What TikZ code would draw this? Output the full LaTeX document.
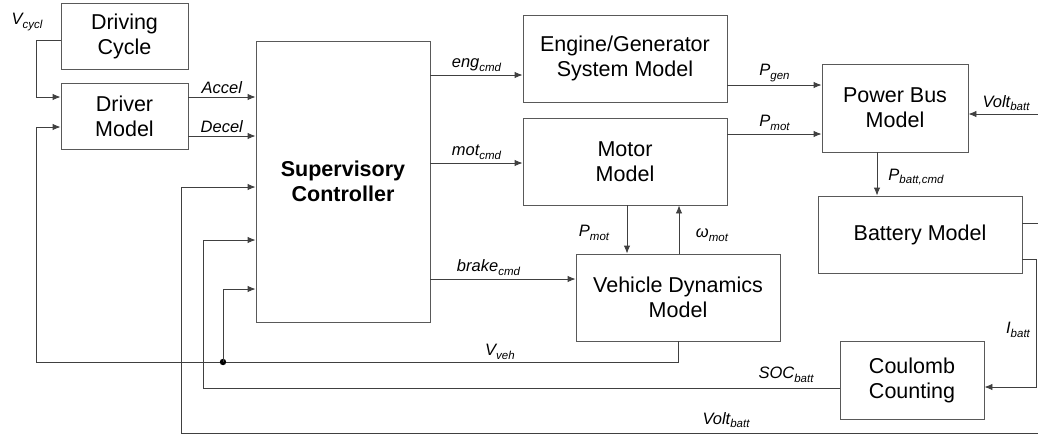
\documentclass[tikz,border=0pt]{standalone}
\usepackage{fontspec}
\setmainfont{Liberation Sans}
\usetikzlibrary{arrows.meta}
\newcommand{\vsub}[2]{\textit{#1\raisebox{-.4ex}{\fontsize{11.5}{12}\selectfont #2}}}

\begin{document}
\begin{tikzpicture}[x=1pt,y=-1pt]
	\tikzset{block/.style = {draw=black!65, line width=0.9pt, align=center, inner sep=0pt, font=\fontsize{21.5}{25}\selectfont}}
	\tikzset{sig/.style = {->, >={Latex[length=8pt,width=6.5pt]}, line width=0.9pt, draw=black!75}}
	\tikzset{wire/.style = {line width=0.9pt, draw=black!75}}
	\tikzset{lbl/.style = {font=\fontsize{16.5}{18}\selectfont, inner sep=0pt}}
	\useasboundingbox (0,0) rectangle (1038,437);
	% Blocks
	\node[block, minimum width=127pt, minimum height=66pt] (cycle) at (124.5,36) {Driving\\Cycle};
	\node[block, minimum width=127pt, minimum height=66pt] (driver) at (124.5,116) {Driver\\Model};
	\node[block, minimum width=174pt, minimum height=281pt] (ctrl) at (343,181.5) {\textbf{Supervisory}\\\textbf{Controller}};
	\node[block, minimum width=204pt, minimum height=87pt] (engine) at (625,58.5) {Engine/Generator\\System Model};
	\node[block, minimum width=204pt, minimum height=87pt] (motor) at (625,161.5) {Motor\\Model};
	\node[block, minimum width=204pt, minimum height=87pt] (vehicle) at (678,297.5) {Vehicle Dynamics\\Model};
	\node[block, minimum width=146pt, minimum height=88pt] (bus) at (895,108) {Power Bus\\Model};
	\node[block, minimum width=204pt, minimum height=77pt] (battery) at (920,234.5) {Battery Model};
	\node[block, minimum width=144pt, minimum height=78pt] (coulomb) at (912,380) {Coulomb\\Counting};
	% Free ends at the right edge
	\coordinate (vr) at (1038,114);
	\coordinate (br) at (1038,223);
	\coordinate (vb) at (1038,433);
	\coordinate (vj) at (223,362);
	% Driver inputs and outputs
	\draw[sig] (cycle.west |- 0,40) -- (36,40) |- (driver.west |- 0,97);
	\node[lbl] (vcycl) at (27,22) {\vsub{V}{cycl}};
	\draw[sig] (driver.east |- 0,97) -- (ctrl.west |- 0,97) node[lbl, midway, above=3pt] {\textit{Accel}};
	\draw[sig] (driver.east |- 0,136) -- (ctrl.west |- 0,136) node[lbl, midway, above=3pt] {\textit{Decel}};
	% Controller commands
	\draw[sig] (ctrl.east |- 0,75) -- (engine.west |- 0,75) node[lbl, midway, above=3pt] {\vsub{eng}{cmd}};
	\draw[sig] (ctrl.east |- 0,163) -- (motor.west |- 0,163) node[lbl, midway, above=3pt] {\vsub{mot}{cmd}};
	\draw[sig] (ctrl.east |- 0,279) -- (vehicle.west |- 0,279) node[lbl, pos=0.4, above=3pt] {\vsub{brake}{cmd}};
	% Power flows
	\draw[sig] (engine.east |- 0,85) -- (bus.west |- 0,85) node[lbl, midway, above=3pt] {\vsub{P}{gen}};
	\draw[sig] (motor.east |- 0,134) -- (bus.west |- 0,134) node[lbl, midway, above=3pt] {\vsub{P}{mot}};
	\draw[sig] (motor.south -| 627,0) -- (vehicle.north -| 627,0);
	\node[lbl] (pmot) at (594,233) {\vsub{P}{mot}};
	\draw[sig] (vehicle.north -| 679,0) -- (motor.south -| 679,0);
	\node[lbl] (wmot) at (712,235) {\vsub{ω}{mot}};
	\draw[sig] (bus.south -| 877,0) -- (battery.north -| 877,0);
	\node[lbl] (pbatt) at (916,177) {\vsub{P}{batt,cmd}};
	\draw[sig] (vr) -- (bus.east |- vr);
	\node[lbl] (voltr) at (1006,103) {\vsub{Volt}{batt}};
	% Battery outputs
	\draw[wire] (battery.east |- br) -- (br);
	\draw[sig] (battery.east |- 0,259) -- (1036,259) |- (coulomb.east |- 0,387);
	\node[lbl] (ibatt) at (1018,330) {\vsub{I}{batt}};
	% Feedback to controller
	\draw[sig] (vehicle.south) |- (36,362) |- (driver.west |- 0,127);
	\fill[black] (vj) circle (3.2pt);
	\draw[sig] (vj) |- (ctrl.west |- 0,289);
	\node[lbl] (vveh) at (500,352) {\vsub{V}{veh}};
	\draw[sig] (coulomb.west |- 0,388) -| (203,240) -- (ctrl.west |- 0,240);
	\node[lbl] (soc) at (786,375) {\vsub{SOC}{batt}};
	\draw[sig] (vb) -| (181,187) -- (ctrl.west |- 0,187);
	\node[lbl] (voltb) at (726,420) {\vsub{Volt}{batt}};
\end{tikzpicture}
\end{document}
